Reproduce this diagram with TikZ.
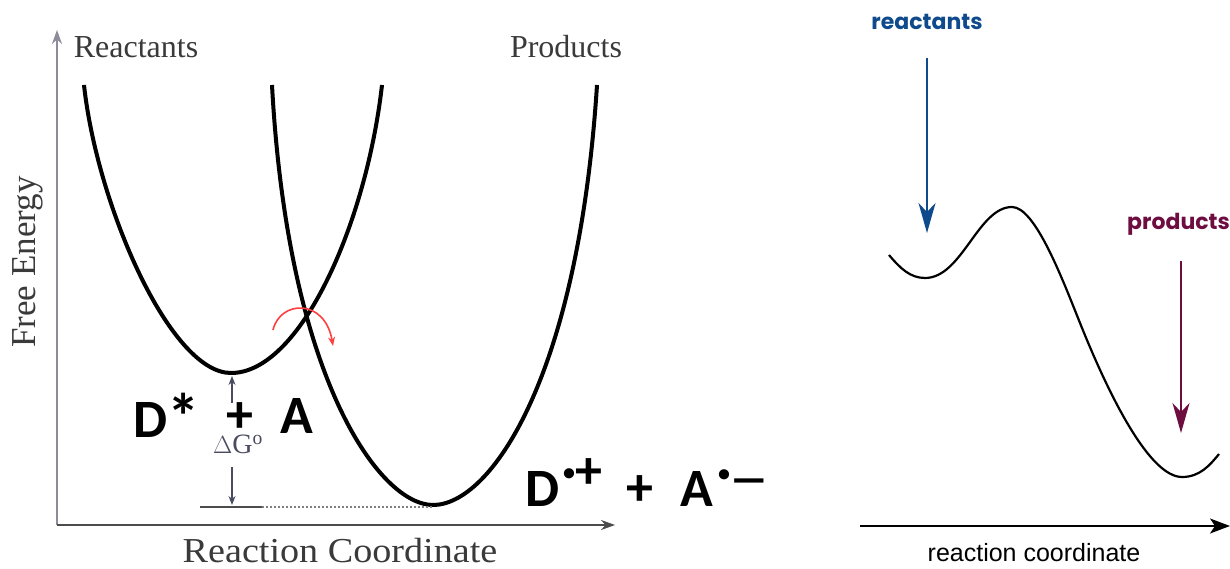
\documentclass[tikz,border=0pt]{standalone}
\usepackage{fontspec}
\setmainfont{Liberation Serif}
\newfontfamily\carl{Carlito}
\newfontfamily\pop{Poppins}
\newfontfamily\lsans{Liberation Sans}
\usetikzlibrary{arrows.meta}
\definecolor{labgray}{HTML}{3A3A3A}
\definecolor{axgray}{HTML}{8C8C9A}
\definecolor{dgcol}{HTML}{4A4A60}
\definecolor{rblue}{HTML}{0E4A8C}
\definecolor{rmaroon}{HTML}{6E0D40}
\tikzset{
  serlab/.style={text=labgray, inner sep=0pt, font=\fontsize{32}{36}\selectfont},
  biglab/.style={inner sep=0pt, font=\carl\bfseries\fontsize{54}{60}\selectfont},
  dotlab/.style={inner sep=0pt, font=\carl\bfseries\fontsize{24}{28}\selectfont, anchor=base},
  wellcurve/.style={line width=4pt, black},
  rcurve/.style={line width=2.2pt, black},
  dgarrow/.style={line width=1.4pt, dgcol, -{Stealth[length=9pt,width=7pt]}},
  bigtip/.style={-{Stealth[length=30pt,width=17pt,inset=9pt]}, line width=1.6pt},
}
\begin{document}
\begin{tikzpicture}[x=1pt,y=-1pt]
\useasboundingbox[fill=white] (0,0) rectangle (1230,569);

% ---------- left diagram ----------
\coordinate (yax0) at (57,525);
\coordinate (yax1) at (57,30);
\coordinate (xax1) at (615,525);
\draw[axgray, line width=2pt, -{Stealth[length=14pt,width=10pt]}] (yax0) -- (yax1);
\draw[gray!60!black, line width=2pt, -{Stealth[length=14pt,width=10pt]}] (yax0) -- (xax1);

\node[serlab] (reac) at (136,47) {Reactants};
\node[serlab] (prod) at (566,47) {Products};
\node[serlab, rotate=90, font=\fontsize{35}{40}\selectfont] (fe) at (28,262) {Free Energy};
\node[serlab, font=\fontsize{35}{40}\selectfont] (rc) at (340,551) {\scalebox{1.09}[1]{Reaction Coordinate}};

% reactant well
\coordinate (lwa) at (84,85);
\coordinate (lwm) at (231,373);
\coordinate (lwb) at (382,85);
\draw[wellcurve] (lwa) .. controls (97,205) and (170,373) .. (lwm)
                       .. controls (300,373) and (366,225) .. (lwb);
% product well
\coordinate (pwa) at (272,85);
\coordinate (pwm) at (433,505);
\coordinate (pwb) at (597,85);
\draw[wellcurve] (pwa) .. controls (288,380) and (380,505) .. (pwm)
                       .. controls (490,505) and (578,380) .. (pwb);

% Delta G marker
\coordinate (lv0) at (200,507);
\coordinate (lv1) at (262,507);
\draw[line width=1.6pt, gray!60!black] (lv0) -- (lv1);
\draw[line width=1.2pt, gray, dash pattern=on 2pt off 2pt] (lv1) -- (pwm |- lv1);
\node[inner sep=0pt, text=dgcol, font=\fontsize{28}{32}\selectfont] (dg) at (238,444) {$\Delta$G$^{\mathrm{o}}$};
\coordinate (dga0) at (232,403);
\coordinate (dga1) at (232,376);
\coordinate (dgb0) at (232,467);
\coordinate (dgb1) at (232,505);
\draw[dgarrow] (dga0) -- (dga1);
\draw[dgarrow] (dgb0) -- (dgb1);

% red curved arrow
\coordinate (ra0) at (273,330);
\coordinate (ra1) at (333,346);
\draw[red!75, line width=1.6pt, -{Stealth[length=9pt,width=7pt]}] (ra0) .. controls (280,300) and (325,298) .. (ra1);

% big labels
\node[biglab] (ds) at (167,416) {D\raisebox{-2pt}{\scalebox{1.2}{*}}};
\node[biglab] (pl1) at (240,418) {+};
\node[biglab] (aa) at (297,416) {A};
\node[biglab] (dd) at (543,489) {D};
\node[dotlab] (db) at (569,480) {•};
\node[biglab] (dpl) at (589,474) {+};
\node[biglab] (pl2) at (640,491) {+};
\node[biglab] (am) at (697,489) {A};
\node[dotlab] (ab) at (724,481) {•};
\node[inner sep=0pt, anchor=base, font=\carl\bfseries\fontsize{54}{60}\selectfont] (amn) at (749,495) {\scalebox{1.4}[0.85]{−}};

% ---------- right diagram ----------
\node[inner sep=0pt, text=rblue, font=\pop\bfseries\fontsize{22}{24}\selectfont] (rl) at (927,22) {reactants};
\node[inner sep=0pt, text=rmaroon, font=\pop\bfseries\fontsize{22}{24}\selectfont, anchor=west] (pl) at (1127,224) {products};
\coordinate (ba0) at (927,58);
\coordinate (ba1) at (927,233);
\coordinate (ma0) at (1181,261);
\coordinate (ma1) at (1181,433);
\draw[bigtip, rblue] (ba0) -- (ba1);
\draw[bigtip, rmaroon] (ma0) -- (ma1);

\coordinate (rc0) at (889,255);
\coordinate (rc1) at (925,278);
\coordinate (rc2) at (1012,207);
\coordinate (rc3) at (1080,323);
\coordinate (rc4) at (1182,477);
\coordinate (rc5) at (1219,454);
\draw[rcurve] (rc0) .. controls (900,268) and (910,278) .. (rc1)
                    .. controls (962,278) and (978,207) .. (rc2)
                    .. controls (1035,207) and (1062,278) .. (rc3)
                    .. controls (1110,398) and (1150,477) .. (rc4)
                    .. controls (1200,477) and (1210,465) .. (rc5);

\coordinate (rx0) at (860,526);
\coordinate (rx1) at (1230,526);
\draw[line width=2pt, -{Stealth[length=20pt,width=15pt,inset=5pt]}] (rx0) -- (rx1);
\node[inner sep=0pt, font=\lsans\fontsize{25}{28}\selectfont] (rcl) at (1034,553) {reaction coordinate};
\end{tikzpicture}
\end{document}
